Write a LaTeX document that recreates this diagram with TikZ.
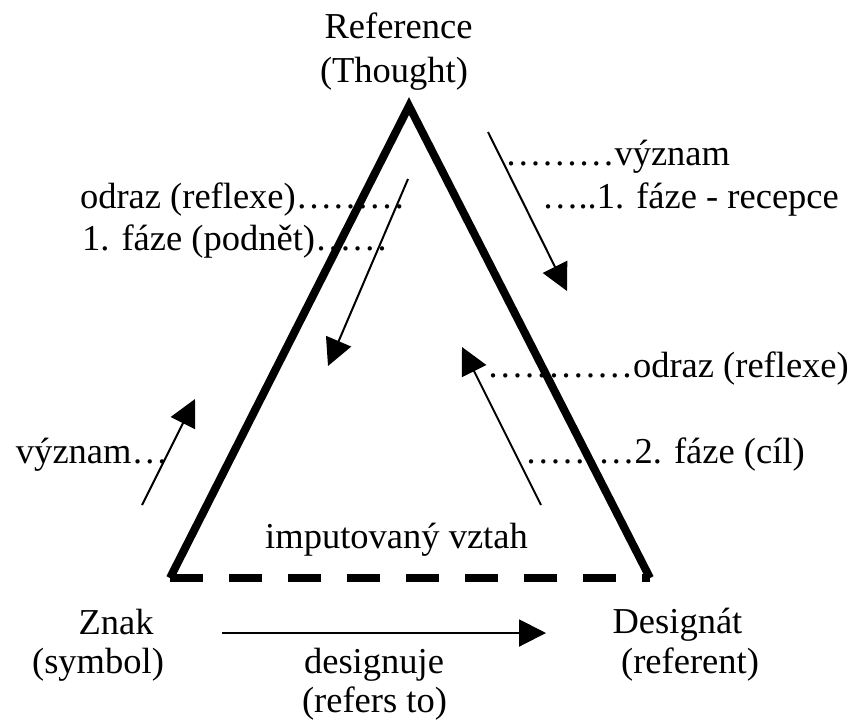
\documentclass[tikz,border=0pt]{standalone}
\usepackage{fontspec}
\setmainfont{Liberation Serif}
\usetikzlibrary{arrows.meta}
\tikzset{
  lbl/.style={inner sep=0pt, outer sep=0pt, font=\fontsize{36.5pt}{37pt}\selectfont},
  side/.style={line width=8pt, line join=miter},
  imputed/.style={line width=8pt, dash pattern=on 33pt off 26pt},
  flow/.style={line width=2pt, -{Triangle[length=27pt,width=27pt]}}
}
\begin{document}
\begin{tikzpicture}[x=1pt,y=-1pt]
\useasboundingbox (0,0) rectangle (850,724);
% texts
\node[lbl, anchor=base] (ref1) at (398.5,38) {Reference};
\node[lbl, anchor=base] (ref2) at (394,82) {(Thought)};
\node[lbl, anchor=base west] (l1) at (80,208) {odraz (reflexe)………};
\node[lbl, anchor=base west] (l2) at (82,250) {1. fáze (podnět)……};
\node[lbl, anchor=base west] (l3) at (16,463) {význam…};
\node[lbl, anchor=base west] (r1) at (505,165) {………význam};
\node[lbl, anchor=base west] (r2) at (542,208) {…..1. fáze - recepce};
\node[lbl, anchor=base west] (r3) at (487,377) {…………odraz (reflexe)};
\node[lbl, anchor=base west] (r4) at (525,463) {………2. fáze (cíl)};
\node[lbl, anchor=base] (imp) at (396.5,548) {imputovaný vztah};
\node[lbl, anchor=base] (zn1) at (116,634) {Znak};
\node[lbl, anchor=base] (zn2) at (98,673) {(symbol)};
\node[lbl, anchor=base] (de1) at (677.5,633) {Designát};
\node[lbl, anchor=base] (de2) at (690,673) {(referent)};
\node[lbl, anchor=base] (dg1) at (374,673) {designuje};
\node[lbl, anchor=base] (dg2) at (374.5,712) {(refers to)};
% triangle
\coordinate (apex) at (409,106);
\coordinate (bl) at (170,578);
\coordinate (br) at (650,578);
\draw[side] (bl) -- (apex) -- (br);
\draw[imputed] (bl) -- (br);
% arrows
\coordinate (a1s) at (408,179);
\coordinate (a1e) at (328,366);
\coordinate (a2s) at (488,132);
\coordinate (a2e) at (567,291);
\coordinate (a3s) at (541,505);
\coordinate (a3e) at (462,347);
\coordinate (a4s) at (142,505);
\coordinate (a4e) at (195,399);
\coordinate (a5s) at (222,633);
\coordinate (a5e) at (546,633);
\draw[flow] (a1s) -- (a1e);
\draw[flow] (a2s) -- (a2e);
\draw[flow] (a3s) -- (a3e);
\draw[flow] (a4s) -- (a4e);
\draw[flow] (a5s) -- (a5e);
\end{tikzpicture}
\end{document}
